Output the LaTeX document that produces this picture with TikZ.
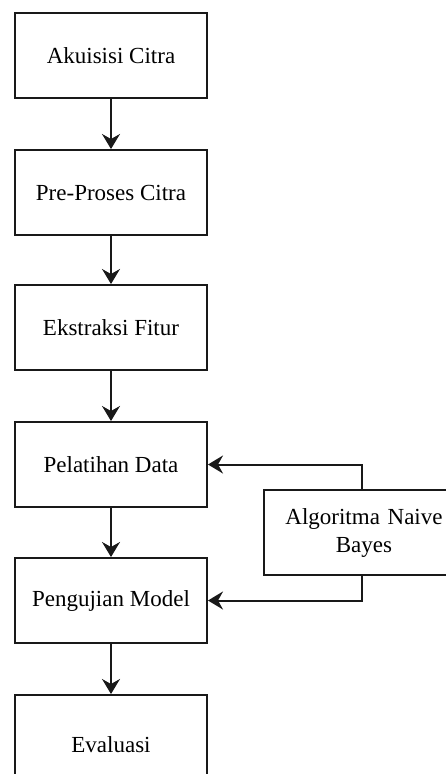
\documentclass[tikz,border=0pt]{standalone}
\usepackage{fontspec}
\setmainfont{Liberation Serif}
\usetikzlibrary{arrows.meta}
\begin{document}
\begin{tikzpicture}[x=1pt,y=-1pt,
  stepbox/.style={draw=black!90,line width=2pt,minimum width=192pt,minimum height=85pt,inner sep=0pt,align=center,font=\fontsize{23}{28}\selectfont,fill=white},
  conn/.style={line width=2pt,draw=black!90,-{Stealth[length=15pt,width=18pt,inset=5pt]}}]
\useasboundingbox (0,0) rectangle (446,774);
\clip (0,0) rectangle (446,774);
\node[stepbox] (a) at (111,55.5) {Akuisisi Citra};
\node[stepbox] (b) at (111,192.5) {Pre-Proses Citra};
\node[stepbox] (c) at (111,327.5) {Ekstraksi Fitur};
\node[stepbox] (d) at (111,464.5) {Pelatihan Data};
\node[stepbox] (e) at (111,600.5) {Pengujian Model};
\node[stepbox,minimum height=100pt] (f) at (111,745) {Evaluasi};
\node[stepbox,draw=none,minimum width=200pt,text width=200pt] (g) at (364,532.5) {Algoritma Naive\\Bayes};
\draw[draw=black!90,line width=2pt] (263,490) -- (480,490) (263,575) -- (480,575) (264,489) -- (264,576);
\draw[conn] (a) -- (b);
\draw[conn] (b) -- (c);
\draw[conn] (c) -- (d);
\draw[conn] (d) -- (e);
\draw[conn] (e) -- (f);
\coordinate (gt) at (362,490);
\coordinate (gb) at (362,575);
\draw[conn] (gt) |- (d.east);
\draw[conn] (gb) |- (e.east);
\end{tikzpicture}
\end{document}
